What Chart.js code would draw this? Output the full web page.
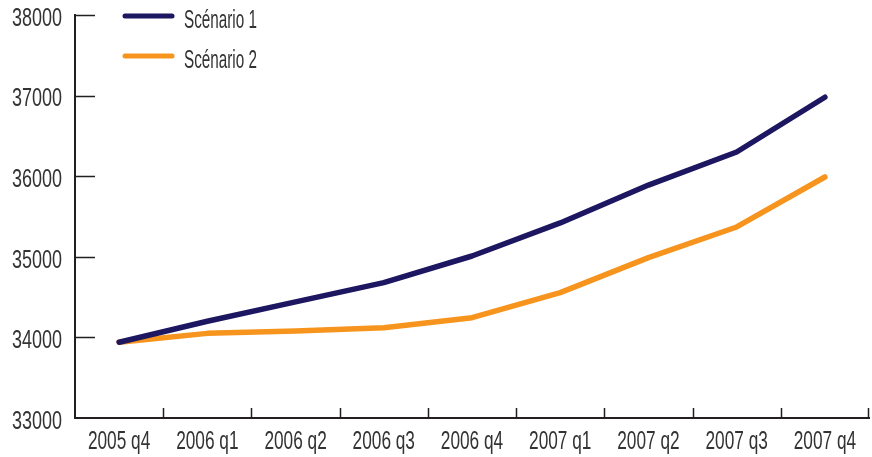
<!DOCTYPE html>
<html>
<head>
<meta charset="utf-8">
<script src="https://cdn.jsdelivr.net/npm/chart.js@4/dist/chart.umd.min.js"></script>
<style>
  html, body { margin: 0; padding: 0; background: #fff; }
  #wrap { width: 872px; height: 457px; position: relative; }
</style>
</head>
<body>
<div id="wrap"><canvas id="chart"></canvas></div>
<script>
// data
const quarters = ['2005 q4', '2006 q1', '2006 q2', '2006 q3', '2006 q4', '2007 q1', '2007 q2', '2007 q3', '2007 q4'];
const scenario1 = [33940, 34200, 34440, 34680, 35010, 35420, 35890, 36300, 36980];
const scenario2 = [33940, 34050, 34080, 34120, 34245, 34555, 34990, 35370, 35990];
const seriesNames = ['Scénario 1', 'Scénario 2'];
const yTicks = [33000, 34000, 35000, 36000, 37000, 38000];

const NAVY = '#1d1660';
const ORANGE = '#f7941d';
const TEXT = '#333333';
const AXIS = '#231f20';
const FONT = "'Liberation Sans', Arial, sans-serif";

// the original font is a narrow one, so squeeze text horizontally
function narrowText(ctx, text, x, y, align, sx) {
    ctx.save();
    ctx.translate(x, y);
    ctx.scale(sx, 1);
    ctx.textAlign = align;
    ctx.fillText(text, 0, 0);
    ctx.restore();
}

// inward tick marks, labels and legend drawn on top
const extrasPlugin = {
    id: 'extras',
    afterDraw(chart) {
        const ctx = chart.ctx;
        const x = chart.scales.x, y = chart.scales.y;
        const area = chart.chartArea;
        ctx.save();
        ctx.strokeStyle = AXIS;
        ctx.lineWidth = 1.5;
        // y ticks pointing right
        y.ticks.forEach(t => {
            if (t.value === yTicks[0]) return;
            const py = Math.round(y.getPixelForValue(t.value)) + 0.5;
            ctx.beginPath();
            ctx.moveTo(area.left, py);
            ctx.lineTo(area.left + 20, py);
            ctx.stroke();
        });
        // x ticks pointing up, at category boundaries
        for (let i = 0; i < quarters.length; i++) {
            let px;
            if (i < quarters.length - 1) {
                px = (x.getPixelForValue(i) + x.getPixelForValue(i + 1)) / 2;
            } else {
                px = area.right - 1;
            }
            px = Math.round(px) + 0.5;
            ctx.beginPath();
            ctx.moveTo(px, area.bottom);
            ctx.lineTo(px, area.bottom - 10);
            ctx.stroke();
        }

        ctx.fillStyle = TEXT;
        ctx.font = '25px ' + FONT;
        ctx.textBaseline = 'middle';
        // y labels
        y.ticks.forEach(t => {
            narrowText(ctx, String(t.value), 62, y.getPixelForValue(t.value) + 4, 'right', 0.72);
        });
        // x labels
        quarters.forEach((q, i) => {
            narrowText(ctx, q, x.getPixelForValue(i), 442, 'center', 0.69);
        });

        // legend
        chart.data.datasets.forEach((ds, i) => {
            const ly = 16 + i * 40;
            ctx.strokeStyle = ds.borderColor;
            ctx.lineWidth = 5;
            ctx.lineCap = 'round';
            ctx.beginPath();
            ctx.moveTo(125, ly);
            ctx.lineTo(172, ly);
            ctx.stroke();
            ctx.fillStyle = TEXT;
            narrowText(ctx, ds.label, 184, ly + 5, 'left', 0.61);
        });
        ctx.restore();
    }
};

new Chart(document.getElementById('chart'), {
    type: 'line',
    data: {
        labels: quarters,
        datasets: [
            {
                label: seriesNames[0],
                data: scenario1,
                borderColor: NAVY,
                backgroundColor: NAVY,
                borderWidth: 5.5,
                pointRadius: 0,
                tension: 0,
                borderCapStyle: 'round',
                borderJoinStyle: 'round'
            },
            {
                label: seriesNames[1],
                data: scenario2,
                borderColor: ORANGE,
                backgroundColor: ORANGE,
                borderWidth: 5.5,
                pointRadius: 0,
                tension: 0,
                borderCapStyle: 'round',
                borderJoinStyle: 'round'
            }
        ]
    },
    options: {
        responsive: true,
        maintainAspectRatio: false,
        animation: false,
        layout: { padding: { top: 15, right: 3, left: 0, bottom: 0 } },
        plugins: {
            legend: { display: false },
            tooltip: { enabled: false }
        },
        scales: {
            x: {
                offset: true,
                grid: { display: false, drawTicks: false },
                border: { display: true, color: AXIS, width: 2 },
                ticks: { display: false },
                afterFit(scale) { scale.height = 39; }
            },
            y: {
                min: 33000,
                max: 38000,
                afterBuildTicks(scale) { scale.ticks = yTicks.map(v => ({ value: v })); },
                grid: { display: false, drawTicks: false },
                border: { display: true, color: AXIS, width: 2 },
                ticks: { display: false },
                afterFit(scale) { scale.width = 75; }
            }
        }
    },
    plugins: [extrasPlugin]
});
</script>
</body>
</html>
